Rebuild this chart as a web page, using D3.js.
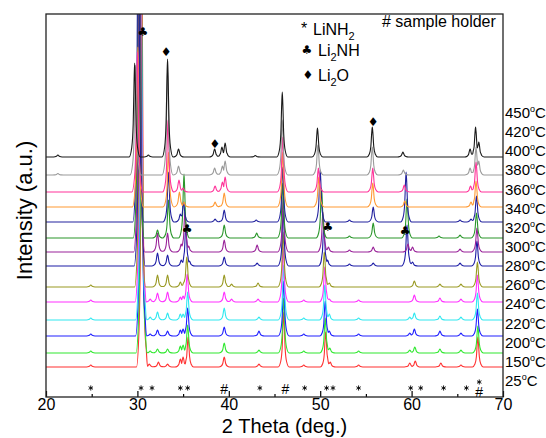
<!DOCTYPE html>
<html>
<head>
<meta charset="utf-8">
<script src="https://cdn.jsdelivr.net/npm/d3@7"></script>
<style>
body { margin: 0; background: #fff; }
text { font-family: Arial, "Liberation Sans", sans-serif; fill: #000; }
</style>
</head>
<body>
<div id="chart"></div>
<script>
// traces from bottom (150 C) to top (450 C)
var temps = ["150","200","220","240","260","280","300","320","340","360","380","400","420","450"];
var colors = ["#ff3030","#30e830","#2020ff","#30e8f0","#ff30ff","#999922","#1c1ca6","#992299","#2a962a","#22229e","#ff9933","#ff3399","#9a9a9a","#1a1a1a"];
var offsets = [30, 44, 61, 77, 95, 110, 131, 145, 159, 175, 190, 205, 222, 240];

// right hand labels, top to bottom
var tempLabels = ["450","420","400","380","360","340","320","300","280","260","240","220","200","150","25"];

// peaks: [2theta, height]
var p150 = [[24.9,2],[30.5,380],[31.3,3],[32.3,5],[33.3,3],[34.7,8],[35.0,10],[35.55,30],[39.5,10],[43.3,3],[46.0,55],[48.2,2],[50.6,35],[51.1,5],[54.2,2],[59.8,4],[60.4,6],[63.2,4],[65.4,2],[67.25,30]];
var p200 = [[24.9,2],[30.45,350],[31.4,2],[32.2,4],[33.3,4],[34.7,7],[35.0,8],[35.5,28],[39.5,10],[43.3,3],[46.0,55],[48.2,2],[50.55,35],[51.05,5],[54.2,2],[59.8,3],[60.35,6],[63.1,4],[65.4,3],[67.25,27]];
var p220 = [[24.9,2],[30.4,350],[31.4,2],[32.2,6],[33.3,5],[34.7,6],[35.0,7],[35.5,28],[39.5,9],[43.3,5],[46.0,55],[48.2,2],[50.55,35],[51.0,5],[54.2,2],[59.8,3],[60.3,7],[63.1,5],[65.4,3],[67.2,27]];
var p240 = [[24.9,2],[30.4,350],[31.4,3],[32.2,8],[33.3,7],[34.7,6],[35.0,6],[35.5,28],[39.5,12],[43.3,3],[46.0,55],[48.2,2],[50.5,35],[51.0,6],[54.2,2],[59.8,3],[60.3,7],[63.1,4],[65.4,3],[67.2,27]];
var p260 = [[24.9,2],[30.35,350],[31.4,3],[32.2,9],[33.3,10],[34.7,5],[35.0,6],[35.45,28],[39.5,10],[40.3,3],[43.2,3],[45.95,55],[48.2,2],[50.5,35],[51.0,3],[54.2,2],[60.3,7],[63.1,4],[65.4,3],[67.2,27]];
var p280 = [[24.9,2],[30.3,350],[32.2,12],[33.3,12],[34.7,5],[35.1,5],[35.4,30],[39.5,12],[40.3,3],[43.2,4],[45.95,55],[50.45,35],[51.0,4],[60.3,6],[63.1,3],[65.4,3],[67.2,25]];
var p300 = [[30.25,350],[32.2,13],[33.3,11],[34.8,6],[35.3,40],[35.7,5],[39.5,9],[43.1,3],[45.95,55],[50.4,40],[50.8,6],[53.2,2],[55.8,3],[59.5,41],[60.1,4],[65.3,3],[67.15,25]];
var p320 = [[30.2,350],[32.2,19],[33.3,19],[34.8,8],[35.2,40],[35.6,6],[39.5,12],[43.1,7],[45.95,55],[50.3,40],[50.9,5],[53.2,2],[55.8,5],[59.6,8],[60.1,5],[65.3,3],[67.15,24]];
var p340 = [[30.15,350],[32.2,8],[33.4,38],[35.1,64],[39.5,13],[43.05,5],[45.9,55],[50.15,50],[53.2,2],[55.8,15],[59.5,39],[63.0,2],[65.3,3],[67.1,25]];
var p360 = [[30.1,350],[33.4,50],[34.7,8],[35.05,20],[38.5,3],[39.5,12],[43.0,2],[45.9,55],[50.0,52],[53.2,2],[55.8,15],[59.4,50],[65.3,2],[66.5,3],[67.1,26]];
var p380 = [[30.05,160],[33.4,55],[34.6,15],[35.1,5],[38.5,5],[39.5,14],[45.9,55],[49.85,30],[55.75,24],[59.25,6],[66.5,5],[67.05,26]];
var p400 = [[30.0,140],[33.35,72],[34.55,12],[35.0,4],[38.5,6],[39.3,10],[39.6,15],[45.9,55],[49.8,24],[55.75,24],[59.2,7],[66.45,6],[67.05,30]];
var p420 = [[21.3,1.5],[29.8,110],[33.3,105],[34.5,9],[38.45,7],[39.3,9],[39.6,14],[45.85,55],[49.75,30],[55.7,28],[59.1,5],[66.4,7],[67.05,28],[67.35,14]];
var p450 = [[21.3,2],[29.7,94],[31.2,2],[33.3,98],[34.5,8],[38.45,8],[39.25,10],[39.6,14],[42.9,1.5],[45.85,65],[49.7,29],[55.7,30],[59.05,5],[66.4,8],[67.0,30],[67.35,15]];
var patterns = [p150,p200,p220,p240,p260,p280,p300,p320,p340,p360,p380,p400,p420,p450];

// reference marks
var liNH2Refs = [24.9,30.4,31.6,34.7,35.5,43.4,48.3,50.7,51.4,54.2,59.9,61.0,63.5,66.0,67.4];
var holderRefs = [39.5,46.2,67.4];
var li2nhMarks = [[30.6,365],[35.43,168],[50.85,170],[59.28,166]];
var li2oMarks = [[33.13,345],[38.49,253],[55.78,275]];

var margin = {top: 14, right: 43, bottom: 41, left: 46},
    width = 546 - margin.left - margin.right,
    height = 438 - margin.top - margin.bottom;

var svg = d3.select("#chart")
  .append("svg")
    .attr("width", 546)
    .attr("height", 438)
  .append("g")
    .attr("transform", "translate(" + margin.left + "," + margin.top + ")");

var x = d3.scaleLinear().domain([20, 70]).range([0, width]);
var y = d3.scaleLinear().domain([0, 383]).range([height, 0]);

svg.append("clipPath").attr("id", "clip")
  .append("rect").attr("width", width).attr("height", height);

// peak glyph, relative [d2theta, fraction of height]
var shape = [[-0.6,0],[-0.32,0.1],[-0.16,0.35],[-0.06,0.82],[0,1],[0.06,0.82],[0.16,0.35],[0.32,0.1],[0.6,0]];

function glyphAt(p, xv) {
  var d = xv - p[0];
  if (d <= shape[0][0] || d >= shape[shape.length-1][0]) return 0;
  for (var i = 1; i < shape.length; i++) {
    if (d <= shape[i][0]) {
      var a = shape[i-1], b = shape[i], t = (d - a[0]) / (b[0] - a[0]);
      return p[1] * (a[1] + t * (b[1] - a[1]));
    }
  }
  return 0;
}

function tracePoints(peaks) {
  var xs = [20, 70];
  peaks.forEach(function(p) { shape.forEach(function(s) { xs.push(p[0] + s[0]); }); });
  xs = xs.filter(function(v) { return v >= 20 && v <= 70; }).sort(function(a, b) { return a - b; });
  return xs.map(function(v) { return [v, d3.max(peaks, function(p) { return glyphAt(p, v); })]; });
}

var traces = temps.map(function(t, i) {
  return {temp: t, color: colors[i], off: offsets[i], pts: tracePoints(patterns[i])};
});

var line = d3.line()
  .x(function(d) { return x(d[0]); })
  .curve(d3.curveMonotoneX);

var plot = svg.append("g").attr("clip-path", "url(#clip)");

plot.selectAll("path.trace")
  .data(traces)
  .enter()
  .append("path")
    .attr("class", "trace")
    .attr("d", function(d) { return line.y(function(p) { return y(d.off + p[1]); })(d.pts); })
    .style("fill", "none")
    .style("stroke", function(d) { return d.color; })
    .style("stroke-width", 1.1)
    .style("stroke-linejoin", "round");

// axes
var xAxis = svg.append("g")
  .attr("transform", "translate(0," + height + ")")
  .call(d3.axisBottom(x).tickValues([20,30,40,50,60,70]).tickFormat(d3.format("d"))
    .tickSizeInner(-6).tickSizeOuter(0).tickPadding(2));
xAxis.select(".domain").remove();
xAxis.selectAll("text").style("font-size", "16px").attr("font-family", null);
xAxis.selectAll("line").attr("stroke-width", 1.2);

svg.append("g")
  .attr("transform", "translate(0," + height + ")")
  .call(d3.axisBottom(x).tickValues([25,35,45,55,65]).tickFormat("").tickSizeInner(-3).tickSizeOuter(0))
  .call(function(g) { g.select(".domain").remove(); })
  .selectAll("line").attr("stroke-width", 1.2);

svg.append("rect")
  .attr("width", width).attr("height", height)
  .style("fill", "none").style("stroke", "#222").style("stroke-width", 1.3);

// reference markers at the bottom
var star = d3.symbol().type(d3.symbolAsterisk).size(18);
svg.selectAll("path.ref")
  .data(liNH2Refs)
  .enter()
  .append("path")
    .attr("class", "ref")
    .attr("d", star)
    .attr("transform", function(d) { return "translate(" + x(d) + "," + (d === 67.4 ? y(0) - 15 : y(0) - 9) + ")"; })
    .style("fill", "none")
    .style("stroke", "#000")
    .style("stroke-width", 0.9);

svg.selectAll("text.holder")
  .data(holderRefs)
  .enter()
  .append("text")
    .attr("class", "holder")
    .attr("x", function(d) { return x(d); })
    .attr("y", function(d) { return d === 67.4 ? y(0) : y(0) - 3; })
    .attr("text-anchor", "middle")
    .style("font-size", "14px")
    .text("#");

svg.selectAll("text.club")
  .data(li2nhMarks)
  .enter()
  .append("text")
    .attr("class", "club")
    .attr("x", function(d) { return x(d[0]); })
    .attr("y", function(d) { return y(d[1]); })
    .attr("text-anchor", "middle")
    .attr("dominant-baseline", "central")
    .style("font-family", "DejaVu Sans")
    .style("font-size", "12px")
    .text("\u2663");

svg.selectAll("text.dia")
  .data(li2oMarks)
  .enter()
  .append("text")
    .attr("class", "dia")
    .attr("x", function(d) { return x(d[0]); })
    .attr("y", function(d) { return y(d[1]); })
    .attr("text-anchor", "middle")
    .attr("dominant-baseline", "central")
    .style("font-family", "DejaVu Sans")
    .style("font-size", "12px")
    .text("\u2666");

// temperature labels on the right
var ly = d3.scalePoint().domain(tempLabels).range([113 - margin.top, 381 - margin.top]);
var tl = svg.selectAll("text.temp")
  .data(tempLabels)
  .enter()
  .append("text")
    .attr("class", "temp")
    .attr("x", width + 2)
    .attr("y", function(d) { return ly(d) + 5; })
    .style("font-size", "15px");
tl.append("tspan").text(function(d) { return d; });
tl.append("tspan").attr("dy", -6).style("font-size", "9px").text("o");
tl.append("tspan").attr("dy", 6).text("C");

// legend
var leg = svg.append("g").attr("transform", "translate(" + (-margin.left) + "," + (-margin.top) + ")");
leg.append("text").attr("x", 301).attr("y", 34).style("font-size", "16px").text("*");
var t1 = leg.append("text").attr("x", 313).attr("y", 35).style("font-size", "16px");
t1.append("tspan").text("LiNH");
t1.append("tspan").attr("dy", 5).style("font-size", "11px").text("2");

leg.append("text").attr("x", 307).attr("y", 50).attr("text-anchor", "middle").attr("dominant-baseline", "central")
  .style("font-family", "DejaVu Sans").style("font-size", "12px").text("\u2663");
var t2 = leg.append("text").attr("x", 318).attr("y", 56).style("font-size", "16px");
t2.append("tspan").text("Li");
t2.append("tspan").attr("dy", 5).style("font-size", "11px").text("2");
t2.append("tspan").attr("dy", -5).text("NH");

leg.append("text").attr("x", 308).attr("y", 75).attr("text-anchor", "middle").attr("dominant-baseline", "central")
  .style("font-family", "DejaVu Sans").style("font-size", "12px").text("\u2666");
var t3 = leg.append("text").attr("x", 318).attr("y", 81).style("font-size", "16px");
t3.append("tspan").text("Li");
t3.append("tspan").attr("dy", 5).style("font-size", "11px").text("2");
t3.append("tspan").attr("dy", -5).text("O");

leg.append("text").attr("x", 382).attr("y", 27).style("font-size", "16px").text("# sample holder");

// axis titles
svg.append("text")
  .attr("x", width / 2 + 10)
  .attr("y", height + 36)
  .attr("text-anchor", "middle")
  .style("font-size", "20px")
  .text("2 Theta (deg.)");

svg.append("text")
  .attr("transform", "translate(" + (-14) + "," + (height / 2 + 5) + ")rotate(-90)")
  .attr("text-anchor", "middle")
  .style("font-size", "22px")
  .text("Intensity (a.u.)");
</script>
</body>
</html>
